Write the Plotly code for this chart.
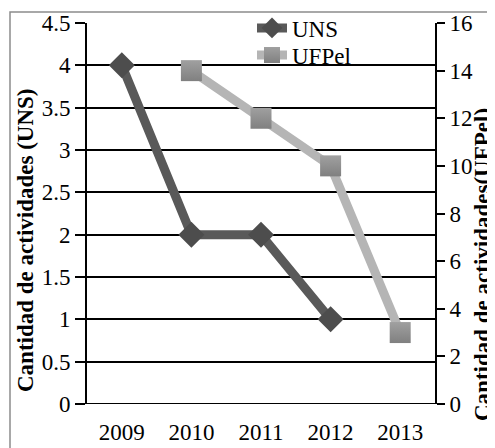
import plotly.graph_objects as go

years = ["2009", "2010", "2011", "2012", "2013"]
uns_years = ["2009", "2010", "2011", "2012"]
uns_values = [4, 2, 2, 1]
ufpel_years = ["2010", "2011", "2012", "2013"]
ufpel_values = [14, 12, 10, 3]

font_family = "Liberation Serif"
FS = 23

OFF = 8  # page body margin offset
W, H = 495, 448
L, R, T, B = 87 - OFF, 435 - OFF, 23 - OFF, 404 - OFF

def px(x):
    return x / W

def py(y):
    return 1 - y / H

fig = go.Figure()
fig.add_trace(go.Scatter(
    x=uns_years, y=uns_values, name="UNS", mode="lines+markers",
    line=dict(color="#595959", width=9),
    marker=dict(symbol="diamond", size=20, color="#4d4d4d"),
    yaxis="y", legend="legend"))
fig.add_trace(go.Scatter(
    x=ufpel_years, y=ufpel_values, name="UFPel", mode="lines+markers",
    line=dict(color="#b5b5b5", width=9),
    marker=dict(symbol="square", size=21, color="#a0a0a0",
                gradient=dict(type="vertical", color="#808080")),
    yaxis="y2", legend="legend2"))

# outer frame of the original chart image, on a full-figure helper axis pair
fx, fy = 10 - OFF, H - (12 - OFF)
fig.add_trace(go.Scatter(
    x=[fx, fx, W], y=[0, fy, fy], mode="lines", xaxis="x2", yaxis="y3",
    line=dict(color="#8c8c8c", width=1.5), showlegend=False,
    hoverinfo="skip", cliponaxis=False))

leg_common = dict(xanchor="left", yanchor="middle", bgcolor="rgba(0,0,0,0)",
                  font=dict(size=FS), itemwidth=30)

fig.update_layout(
    width=W, height=H,
    margin=dict(l=0, r=0, t=0, b=0, pad=0, autoexpand=False),
    paper_bgcolor="white", plot_bgcolor="rgba(0,0,0,0)",
    font=dict(family=font_family, size=FS, color="black"),
    showlegend=True,
    legend=dict(x=px(244), y=py(20), **leg_common),
    legend2=dict(x=px(244), y=py(47), **leg_common),
    xaxis=dict(type="category", categoryorder="array", categoryarray=years,
               domain=[px(L), px(R)], anchor="y",
               range=[-0.5, 4.5], showgrid=False, ticks="",
               ticklabelstandoff=12, showline=False, zeroline=False,
               tickfont=dict(size=FS), automargin=False),
    yaxis=dict(range=[0, 4.5], dtick=0.5, domain=[py(B), py(T)], anchor="x",
               showgrid=True, gridcolor="black",
               gridwidth=1.5, showline=True, linecolor="black", linewidth=2,
               ticks="outside", ticklen=10, tickcolor="black", tickwidth=1.5,
               zeroline=False, tickfont=dict(size=FS), automargin=False),
    yaxis2=dict(range=[0, 16], dtick=2, overlaying="y", side="right", anchor="x",
                showgrid=False, showline=True, linecolor="black", linewidth=2,
                ticks="outside", ticklen=8, tickcolor="black", tickwidth=1.5,
                zeroline=False, tickfont=dict(size=FS), automargin=False),
    xaxis2=dict(domain=[0, 1], range=[0, W], visible=False, anchor="y3",
                fixedrange=True),
    yaxis3=dict(domain=[0, 1], range=[0, H], visible=False, anchor="x2",
                fixedrange=True),
)

fig.add_annotation(text="<b>Cantidad de actividades (UNS)</b>", textangle=-90,
                   xref="paper", yref="paper", x=px(17), y=py(232),
                   xanchor="center", yanchor="middle", showarrow=False,
                   font=dict(size=FS))
fig.add_annotation(text="<b>Cantidad de actividades(UFPel)</b>", textangle=-90,
                   xref="paper", yref="paper", x=px(474), y=py(257),
                   xanchor="center", yanchor="middle", showarrow=False,
                   font=dict(size=FS))

# bottom axis line at 0
fig.add_shape(type="line", xref="x domain", yref="y", x0=0, x1=1, y0=0, y1=0,
              line=dict(color="black", width=2))

fig.write_html("out.html")
